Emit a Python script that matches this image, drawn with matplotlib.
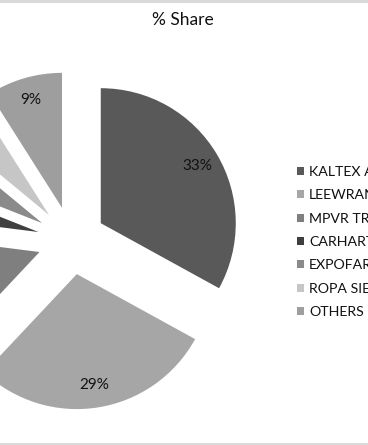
import matplotlib
matplotlib.use("Agg")
import matplotlib.pyplot as plt
from matplotlib.patches import Patch, Rectangle

plt.rcParams['font.family'] = ['Lato', 'DejaVu Sans']

# data (percent share)
companies = ['KALTEX AMERICA', 'LEEWRANGLER', 'MPVR TRADING', 'CARHARTT',
             'EXPOFARMA', 'ROPA SIETE', 'OTHERS']
share = [33, 29, 15, 4, 5, 5, 9]
colors = ['#595959', '#a6a6a6', '#7f7f7f', '#3f3f3f', '#8a8a8a', '#c6c6c6', '#9e9e9e']

W, H = 368, 445
fig = plt.figure(figsize=(W / 100, H / 100), dpi=100)
ax = fig.add_axes([0, 0, 1, 1])

R = 135.0          # pie radius in px
cx, cy = 71.5, 204.5  # pie centre in px from bottom-left

wedges, texts, autotexts = ax.pie(
    share, colors=colors, startangle=90, counterclock=False,
    explode=[34 / R] * len(share), autopct='%1.0f%%', pctdistance=0.83,
    wedgeprops=dict(linewidth=0), textprops=dict(fontsize=11, color='#111111'))

ax.set_xlim(-cx / R, (W - cx) / R)
ax.set_ylim(-cy / R, (H - cy) / R)
ax.set_aspect('auto')
ax.axis('off')

fig.text(0.497, 1 - 20 / H, '% Share', ha='center', va='center',
         fontsize=12.5, color='#111111')

handles = [Patch(facecolor=c, edgecolor='none') for c in colors]
fig.legend(handles, companies, loc='upper left',
           bbox_to_anchor=(297 / W, 1 - 166 / H), frameon=False,
           borderpad=0, borderaxespad=0, fontsize=10.2,
           handlelength=0.48, handleheight=0.48, handletextpad=0.36,
           labelspacing=0.8, labelcolor='#111111')

# thin grey bands of the screenshot frame
fig.add_artist(Rectangle((0, 1 - 2.5 / H), 1, 2.5 / H, transform=fig.transFigure,
                         facecolor='#d9d9d9', edgecolor='none'))
fig.add_artist(Rectangle((0, 0), 1, 2.5 / H, transform=fig.transFigure,
                         facecolor='#d9d9d9', edgecolor='none'))

fig.savefig('out.png', dpi=100)
